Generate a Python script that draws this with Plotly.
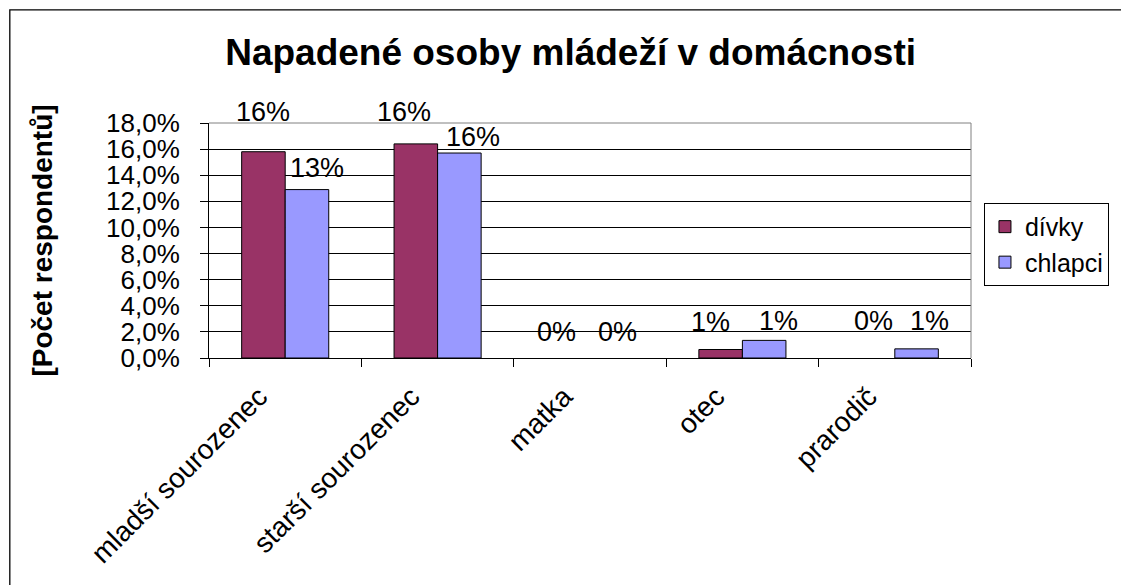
import plotly.graph_objects as go

# data (percent of respondents)
categories = ["mladší sourozenec", "starší sourozenec", "matka", "otec", "prarodič"]
divky = [15.8, 16.4, 0.0, 0.65, 0.0]
chlapci = [12.9, 15.7, 0.0, 1.35, 0.7]
y_ticks = [0, 2, 4, 6, 8, 10, 12, 14, 16, 18]
y_tick_text = [f"{v:.1f}%".replace(".", ",") for v in y_ticks]

# label nudges (px) to mimic the hand-placed Excel labels
divky_dx = [0, -12, -12, -10, 0]
divky_dy = [40, 32, 26, 28, 37]
chlapci_dx = [10, 14, 6, 14, 13]
chlapci_dy = [22, 16, 26, 19, 28]

FONT = "Liberation Sans, Arial, sans-serif"
GIRLS = "#993366"
BOYS = "#9999FF"
BARGAP = 0.4286
half = (1 - BARGAP) / 4   # centre offset of each bar inside its group

fig = go.Figure()
for name, vals, col in [("dívky", divky, GIRLS), ("chlapci", chlapci, BOYS)]:
    fig.add_trace(go.Bar(
        x=categories, y=vals, name=name,
        marker=dict(color=col,
                    line=dict(color="black", width=[1 if v > 0 else 0 for v in vals])),
    ))

# data labels
for vals, off, dxs, dys in [(divky, -half, divky_dx, divky_dy),
                            (chlapci, half, chlapci_dx, chlapci_dy)]:
    for i, v in enumerate(vals):
        fig.add_annotation(x=i + off, y=v, text=f"{v:.0f}%", showarrow=False,
                           xshift=dxs[i], yshift=dys[i], yanchor="middle",
                           font=dict(family=FONT, size=27, color="black"))

# plot-area border (top / right in grey) and the outer chart frame
fig.add_shape(type="line", xref="paper", yref="paper", x0=0, x1=1, y0=1, y1=1,
              line=dict(color="#808080", width=1), layer="above")
fig.add_shape(type="line", xref="paper", yref="paper", x0=1, x1=1, y0=0, y1=1,
              line=dict(color="#808080", width=1), layer="above")
fig.add_shape(type="rect", xref="paper", yref="paper", x0=-0.2614, x1=1.3,
              y0=-1.2, y1=1.481, line=dict(color="black", width=1.3))

fig.update_layout(
    width=1121, height=585,
    margin=dict(l=209, r=143, t=123, b=227),
    paper_bgcolor="white", plot_bgcolor="white",
    font=dict(family=FONT, size=26, color="black"),
    barmode="group", bargap=BARGAP, bargroupgap=0,
    title=dict(text="<b>Napadené osoby mládeží v domácnosti</b>",
               x=0.509, xanchor="center", y=0.911, yanchor="middle",
               font=dict(family=FONT, size=37, color="black")),
    xaxis=dict(showline=True, linecolor="black", linewidth=1,
               ticks="outside", ticklen=8, tickcolor="black",
               tickson="boundaries", tickangle=-45,
               ticklabelshift=-26, ticklabelstandoff=10,
               tickfont=dict(size=28), showgrid=False),
    yaxis=dict(range=[0, 18], tickvals=y_ticks, ticktext=y_tick_text,
               showline=True, linecolor="black", linewidth=1,
               ticks="outside", ticklen=8, tickcolor="black",
               ticklabelstandoff=15,
               showgrid=True, gridcolor="black", gridwidth=1, zeroline=False,
               tickfont=dict(size=26),
               title=dict(text="<b>[Počet respondentů]</b>", standoff=45,
                          font=dict(size=28))),
    legend=dict(x=1.017, y=0.66, xanchor="left", yanchor="top",
                bordercolor="black", borderwidth=1, bgcolor="white",
                font=dict(size=25), tracegroupgap=0),
    showlegend=True,
)

fig.write_html("out.html", config={"displayModeBar": False},
               post_script="document.body.style.margin='0';")
